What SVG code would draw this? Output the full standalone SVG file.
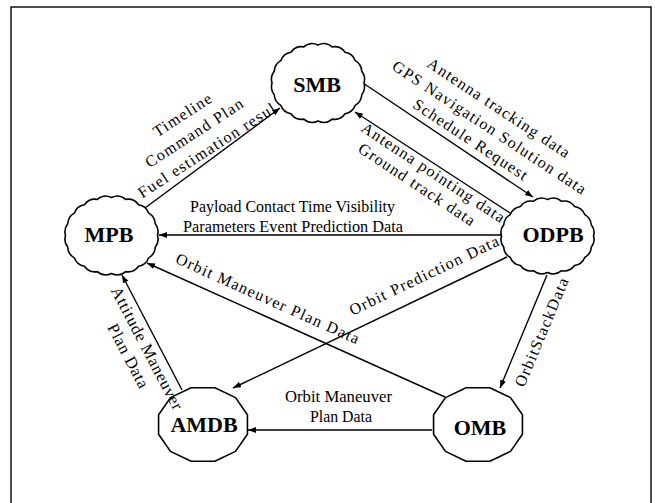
<svg xmlns="http://www.w3.org/2000/svg" xmlns:xlink="http://www.w3.org/1999/xlink" width="655" height="503" viewBox="0 0 655 503">
  <style>
    .frame { fill: none; stroke: #000; stroke-width: 1.4; }
    .node { fill: #fff; stroke: #000; stroke-width: 1.6; stroke-linejoin: round; }
    .name { font-family: "Liberation Serif", "Times New Roman", serif; font-weight: bold; font-size: 22px; fill: #000; text-anchor: middle; }
    .edge { fill: none; stroke: #000; stroke-width: 1.4; marker-end: url(#arrow); }
    .lbl { font-family: "Liberation Serif", "Times New Roman", serif; font-size: 16px; letter-spacing: 1.3px; fill: #000; text-anchor: middle; }
    .hlbl { font-family: "Liberation Serif", "Times New Roman", serif; font-size: 17px; fill: #000; text-anchor: middle; }
    .alb { font-family: "Liberation Serif", "Times New Roman", serif; font-size: 16.5px; letter-spacing: 0.7px; fill: #000; text-anchor: middle; }
  </style>
  <defs>
    <marker id="arrow" markerUnits="userSpaceOnUse" markerWidth="9" markerHeight="7" refX="8" refY="3" orient="auto">
      <path d="M0,0 L8,3 L0,6 Z" fill="#000"/>
    </marker>
    <!-- scalloped ellipse, rx 46 / ry 38 -->
    <path id="cloud" d="M46,0 A13,13 0 0 1 43.75,11.74 A13,13 0 0 1 37.21,22.34 A13,13 0 0 1 27.04,30.74 A13,13 0 0 1 14.21,36.14 A13,13 0 0 1 0,38 A13,13 0 0 1 -14.21,36.14 A13,13 0 0 1 -27.04,30.74 A13,13 0 0 1 -37.21,22.34 A13,13 0 0 1 -43.75,11.74 A13,13 0 0 1 -46,0 A13,13 0 0 1 -43.75,-11.74 A13,13 0 0 1 -37.21,-22.34 A13,13 0 0 1 -27.04,-30.74 A13,13 0 0 1 -14.21,-36.14 A13,13 0 0 1 0,-38 A13,13 0 0 1 14.21,-36.14 A13,13 0 0 1 27.04,-30.74 A13,13 0 0 1 37.21,-22.34 A13,13 0 0 1 43.75,-11.74 A13,13 0 0 1 46,0 Z"/>
    <!-- twelve-sided outline -->
    <polygon id="poly" points="44.43,9.83 32.53,26.87 11.90,36.70 -11.90,36.70 -32.53,26.87 -44.43,9.83 -44.43,-9.83 -32.53,-26.87 -11.90,-36.70 11.90,-36.70 32.53,-26.87 44.43,-9.83"/>
  </defs>

  <rect class="frame" x="11" y="7" width="640" height="520"/>

  <g id="connectors">
    <line class="edge" x1="145" y1="208" x2="280" y2="108"/>
    <line class="edge" x1="363" y1="83" x2="533" y2="197"/>
    <line class="edge" x1="510" y1="213" x2="355" y2="112"/>
    <line class="edge" x1="502" y1="235" x2="159" y2="235"/>
    <line class="edge" x1="507" y1="257" x2="233" y2="388"/>
    <line class="edge" x1="445" y1="397" x2="147" y2="263"/>
    <line class="edge" x1="182" y1="390" x2="122" y2="275"/>
    <line class="edge" x1="547" y1="275" x2="500" y2="388"/>
    <line class="edge" x1="432" y1="430" x2="248" y2="430"/>
  </g>

  <g id="SMB">
    <use xlink:href="#cloud" class="node" transform="translate(318,83)"/>
    <text class="name" x="317" y="92">SMB</text>
  </g>
  <g id="MPB">
    <use xlink:href="#cloud" class="node" transform="translate(111.5,235.5)"/>
    <text class="name" x="109" y="242">MPB</text>
  </g>
  <g id="ODPB">
    <use xlink:href="#cloud" class="node" transform="translate(547.5,236) scale(1,0.96)"/>
    <text class="name" x="553" y="242">ODPB</text>
  </g>
  <g id="AMDB">
    <use xlink:href="#poly" class="node" transform="translate(203,424.5)"/>
    <text class="name" x="204" y="432">AMDB</text>
  </g>
  <g id="OMB">
    <use xlink:href="#poly" class="node" transform="translate(478,424.5)"/>
    <text class="name" x="480" y="435">OMB</text>
  </g>

  <g id="labels">
    <g transform="rotate(-33)">
      <text class="lbl" x="91" y="201">Timeline</text>
      <text class="lbl" x="91" y="222.5">Command Plan</text>
      <text class="lbl" x="92" y="244">Fuel estimation resul</text>
    </g>
    <g transform="rotate(33.5)">
      <text class="lbl" x="476" y="-180">Antenna tracking data</text>
      <text class="lbl" x="479" y="-158.5">GPS Navigation Solution data</text>
      <text class="lbl" x="470" y="-138">Schedule Request</text>
      <text class="lbl" x="457" y="-90">Antenna pointing data</text>
      <text class="lbl" x="450" y="-71">Ground track data</text>
    </g>
    <text class="hlbl" x="292.5" y="212" textLength="205" lengthAdjust="spacingAndGlyphs">Payload Contact Time Visibility</text>
    <text class="hlbl" x="293" y="232" textLength="220" lengthAdjust="spacingAndGlyphs">Parameters Event Prediction Data</text>
    <g transform="rotate(-25.6)">
      <text class="lbl" x="264" y="437">Orbit Prediction Data</text>
    </g>
    <g transform="rotate(24.2)">
      <text class="lbl" x="367" y="168">Orbit Maneuver Plan Data</text>
    </g>
    <g transform="rotate(62.4)">
      <text class="alb" x="377" y="36.5">Attitude Maneuver</text>
      <text class="alb" x="375" y="56.7">Plan Data</text>
    </g>
    <g transform="rotate(-67.4)">
      <text class="lbl" x="-98" y="633">OrbitStackData</text>
    </g>
    <text class="hlbl" x="338.5" y="402" textLength="107" lengthAdjust="spacingAndGlyphs">Orbit Maneuver</text>
    <text class="hlbl" x="341" y="422" textLength="62" lengthAdjust="spacingAndGlyphs">Plan Data</text>
  </g>
</svg>
